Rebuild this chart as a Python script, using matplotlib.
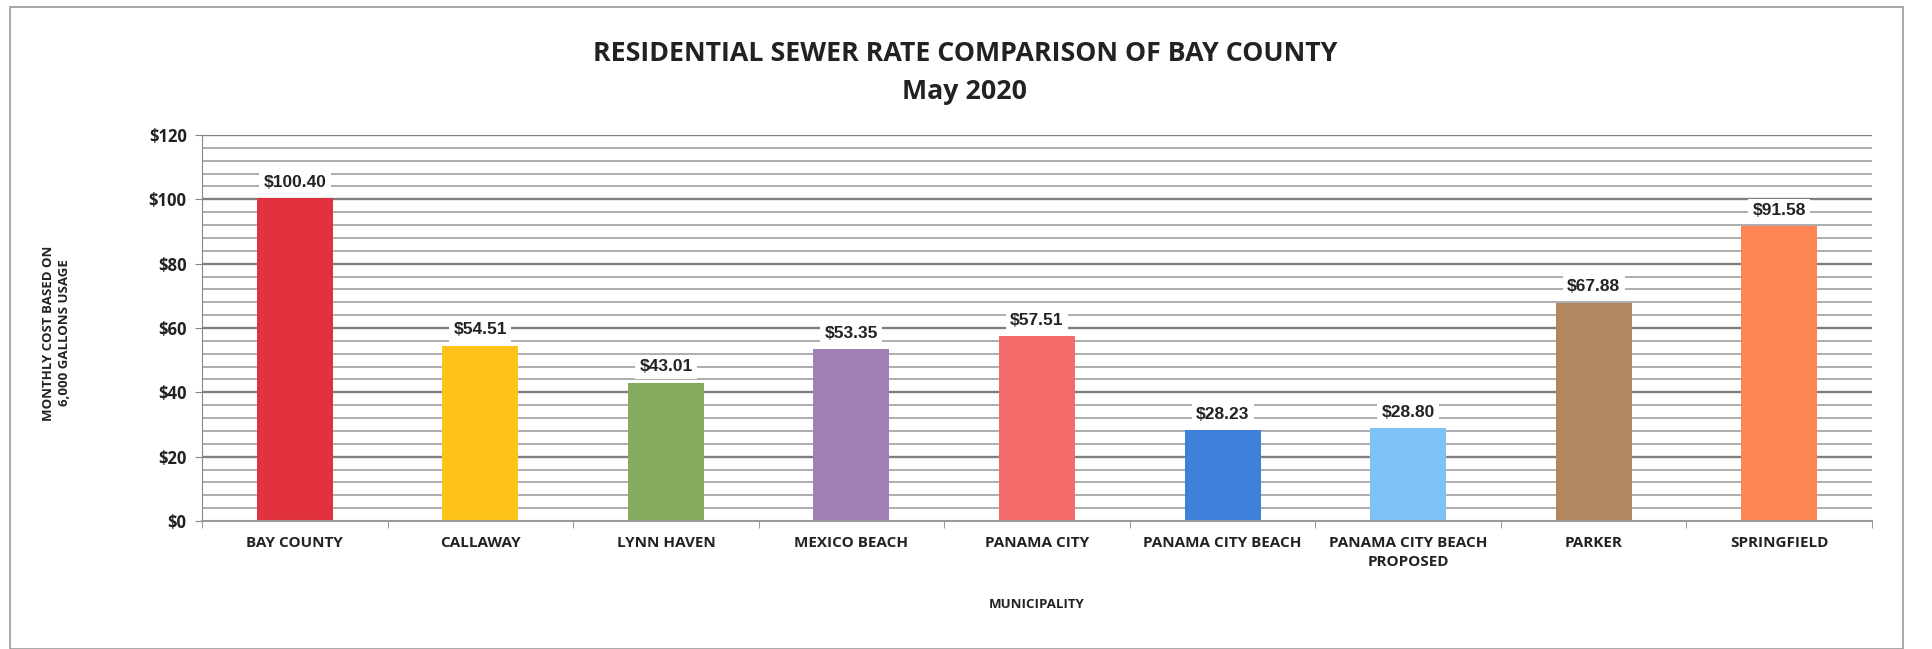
import matplotlib
matplotlib.use("Agg")
import matplotlib.pyplot as plt
from matplotlib.patches import Rectangle
import numpy as np

categories = ["BAY COUNTY", "CALLAWAY", "LYNN HAVEN", "MEXICO BEACH", "PANAMA CITY",
              "PANAMA CITY BEACH", "PANAMA CITY BEACH\nPROPOSED", "PARKER", "SPRINGFIELD"]
values = [100.40, 54.51, 43.01, 53.35, 57.51, 28.23, 28.80, 67.88, 91.58]
colors = ["#E2323F", "#FFC31A", "#84AC5C", "#A27FB6", "#F46B6C", "#3F80DA", "#7EC3F5", "#B0875F", "#FF8555"]
yticks = [0, 20, 40, 60, 80, 100, 120]

FONT = "Open Sans"
W, H = 1933, 649
fig = plt.figure(figsize=(W / 100, H / 100), dpi=100)
fig.patch.set_facecolor("white")

# outer border
fig.add_artist(Rectangle((10 / W, 0), (1903 - 10) / W, (649 - 7) / H, transform=fig.transFigure,
                         fill=False, edgecolor="#9a9a9a", linewidth=1.2))

left, right, top, bottom = 202, 1872, 135, 521
ax = fig.add_axes([left / W, 1 - bottom / H, (right - left) / W, (bottom - top) / H])

x = np.arange(len(categories))
ax.set_xlim(-0.5, len(categories) - 0.5)
ax.set_ylim(0, 120)

# gridlines
for v in np.arange(4, 120.1, 4):
    major = v % 20 == 0
    ax.axhline(v, color="#808080" if major else "#a0a0a0", linewidth=1.7 if major else 1.2, zorder=0)

ax.bar(x, values, width=0.41, color=colors, zorder=2)

for xi, v in zip(x, values):
    ax.annotate(f"${v:.2f}", (xi, v), xytext=(0, 6), textcoords="offset points",
                ha="center", va="bottom", fontsize=12.5, fontweight="bold", family="Liberation Sans",
                color="#222222", zorder=3,
                bbox=dict(boxstyle="square,pad=0.25", facecolor="white", edgecolor="none"))

ax.set_yticks(yticks)
ax.set_yticklabels([f"${t}" for t in yticks], fontsize=12, fontweight="bold", family=FONT, color="#222222")
ax.set_xticks(x)
ax.set_xticklabels(categories, fontsize=11, fontweight="bold", family=FONT, color="#222222", linespacing=1.45)
ax.set_xticks(np.arange(-0.5, len(categories)), minor=True)
ax.tick_params(axis="x", which="major", length=0, pad=11)
ax.tick_params(axis="x", which="minor", length=5, color="#888888")
ax.tick_params(axis="y", length=5, color="#888888", pad=6)

for s in ["top", "right"]:
    ax.spines[s].set_visible(False)
ax.spines["left"].set_color("#888888")
ax.spines["bottom"].set_color("#999999")
ax.spines["bottom"].set_linewidth(1.5)

cx = 965 / W
fig.text(cx, 1 - 54 / H, "RESIDENTIAL SEWER RATE COMPARISON OF BAY COUNTY",
         ha="center", va="center", fontsize=19.3, fontweight="bold", family=FONT, color="#222222")
fig.text(cx, 1 - 92 / H, "May 2020",
         ha="center", va="center", fontsize=19.3, fontweight="bold", family=FONT, color="#222222")

fig.text(57 / W, 1 - 333 / H, "MONTHLY COST BASED ON\n6,000 GALLONS USAGE", rotation=90,
         ha="center", va="center", fontsize=9.5, fontweight="bold", family=FONT, color="#222222",
         linespacing=1.3)
fig.text((left + right) / 2 / W, 1 - 604 / H, "MUNICIPALITY", ha="center", va="center",
         fontsize=9.5, fontweight="bold", family=FONT, color="#222222")

fig.savefig("out.png", dpi=100)
